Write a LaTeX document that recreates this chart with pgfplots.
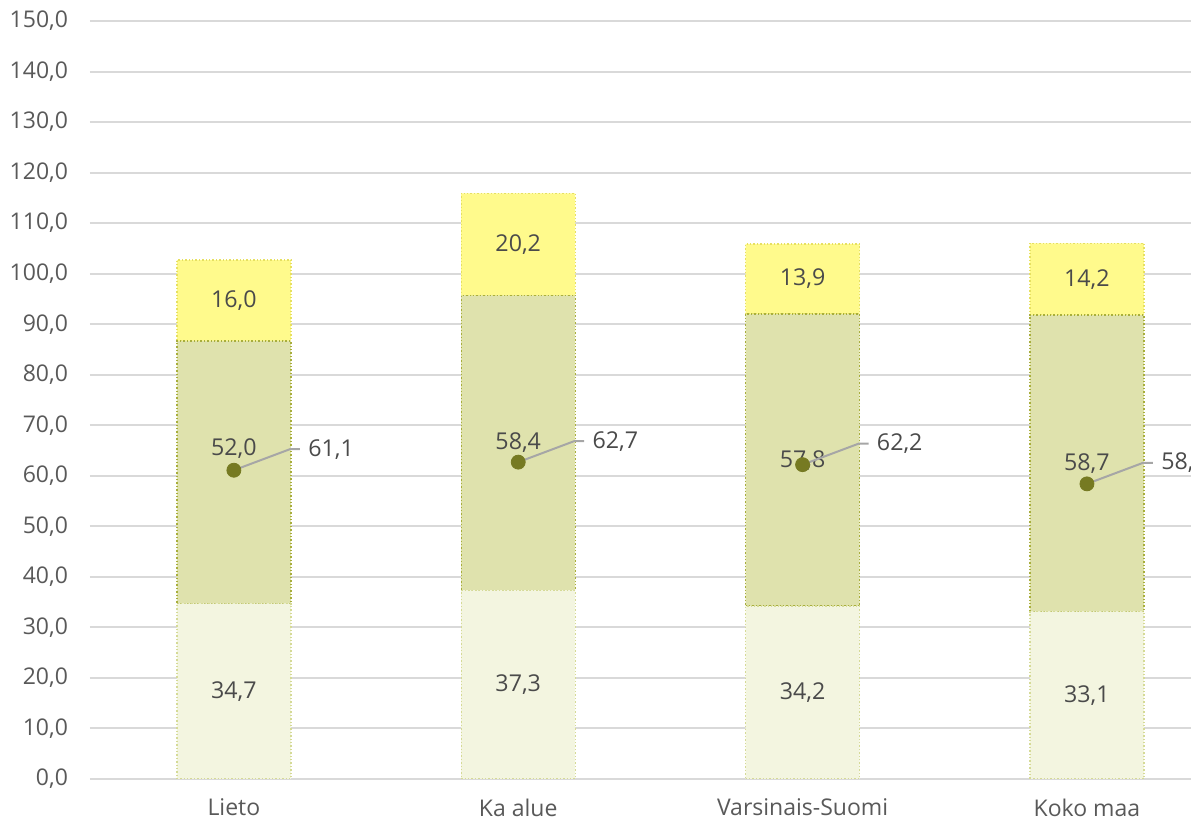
\documentclass[border=0pt]{standalone}
\usepackage{fontspec}
\setmainfont{Open Sans}
\usepackage{pgfplots}
\pgfplotsset{compat=1.18}
\usepackage{pgfplotstable}

\definecolor{gridc}{HTML}{D9D9D9}
\definecolor{txtc}{HTML}{595959}
\definecolor{lblc}{HTML}{4A4A4A}
\definecolor{f1}{HTML}{F3F5E0}
\definecolor{d1}{HTML}{D5DA96}
\definecolor{f2}{HTML}{DFE2AD}
\definecolor{d2}{HTML}{A8AE3C}
\definecolor{f3}{HTML}{FFFA8C}
\definecolor{d3}{HTML}{E6E060}
\definecolor{dotc}{HTML}{767A22}
\definecolor{leadc}{HTML}{A6A6A6}

\pgfplotstableread{
x a b c p l1 l2 l3
0 34.7 52.0 16.0 61.1 17.35 65.3 94.7
1 37.3 58.4 20.2 62.7 18.65 66.5 105.8
2 34.2 57.8 13.9 62.2 17.1 63.1 98.95
3 33.1 58.7 14.2 58.4 16.55 62.45 98.9
}\data

\pgfdeclareplotmark{leader}{%
  \pgfpathmoveto{\pgfpointorigin}%
  \pgfpathlineto{\pgfpoint{28pt}{10.5pt}}%
  \pgfpathlineto{\pgfpoint{33pt}{10.5pt}}%
  \pgfusepathqstroke}

\pgfplotsset{
  common/.style={width=550.5pt,height=379pt,scale only axis,
    xmin=-0.506,xmax=3.366,ymin=0,ymax=150},
  lbl/.style={draw=none,mark=none,nodes near coords,point meta=explicit,
    nodes near coords={\pgfmathprintnumber[fixed,fixed zerofill,precision=1,use comma,assume math mode=true]{\pgfplotspointmeta}},
    every node near coord/.append style={anchor=center,text=lblc,font=\fontsize{11.6}{13}\selectfont,inner sep=0pt}},
}

\begin{document}
\fontsize{11.5}{13}\selectfont
\begin{tikzpicture}
\begin{axis}[common,name=ax,
  ybar stacked, bar width=57pt,
  ytick distance=10,
  ymajorgrids, grid style={draw=gridc,line width=1pt},
  axis line style={draw=none}, tick style={draw=none},
  xtick=data, xticklabels={Lieto,Ka alue,Varsinais-Suomi,Koko maa},
  yticklabel={\pgfmathprintnumber[fixed,fixed zerofill,precision=1,use comma,assume math mode=true]{\tick}},
  ticklabel style={text=txtc,font=\fontsize{11.5}{13}\selectfont},
  yticklabel style={xshift=-7pt},
  xticklabel style={yshift=-6pt},
]
\addplot[fill=f1,draw=d1,densely dotted,line width=0.7pt] table[x=x,y=a]{\data};
\addplot[fill=f2,draw=d2,densely dotted,line width=0.7pt] table[x=x,y=b]{\data};
\addplot[fill=f3,draw=d3,densely dotted,line width=0.7pt] table[x=x,y=c]{\data};
\end{axis}
\begin{axis}[common,hide axis]
\addplot[lbl] table[x=x,y=l1,meta=a]{\data};
\addplot[lbl] table[x=x,y=l2,meta=b]{\data};
\addplot[lbl] table[x=x,y=l3,meta=c]{\data};
\addplot[only marks,mark=leader,mark options={draw=leadc,line width=1pt}] table[x=x,y=p]{\data};
\addplot[only marks,mark=*,mark size=3.5pt,color=dotc] table[x=x,y=p]{\data};
\addplot[lbl,every node near coord/.append style={anchor=west,xshift=37pt,yshift=10.5pt,overlay}] table[x=x,y=p,meta=p]{\data};
\end{axis}
\pgfresetboundingbox
\path ([xshift=-45pt,yshift=-21.5pt]ax.south west) rectangle ([yshift=10.5pt]ax.north east);
\end{tikzpicture}
\end{document}
